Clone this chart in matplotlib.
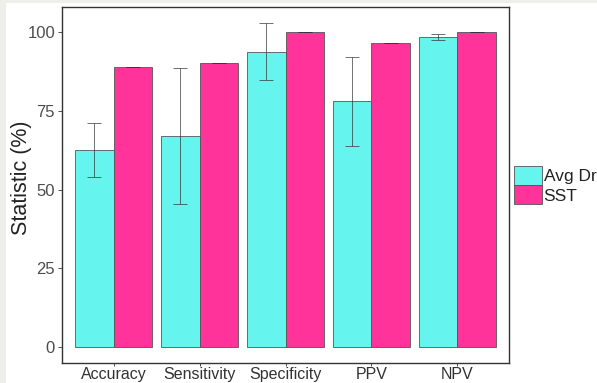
#!/usr/bin/env python3
# Grouped bar chart: Avg Dr vs SST diagnostic statistics, ggplot-like look.

import numpy as np
import matplotlib
matplotlib.use("Agg")
import matplotlib.pyplot as plt
from matplotlib.patches import Rectangle

plt.rcParams["font.family"] = ["Liberation Sans", "DejaVu Sans"]

categories = ["Accuracy", "Sensitivity", "Specificity", "PPV", "NPV"]
avg_dr = [62.5, 67.0, 93.7, 78.2, 98.4]
avg_dr_low = [54.0, 45.4, 84.9, 63.7, 97.5]
avg_dr_high = [71.0, 88.6, 102.8, 92.1, 99.3]
sst = [89.0, 90.2, 100.0, 96.5, 100.0]
series_names = ["Avg Dr", "SST"]
y_ticks = [0, 25, 50, 75, 100]

CYAN = "#66F4EE"
PINK = "#FF3399"
EDGE = "#555555"
TEXT = "#4d4d4d"
STRIP = "#eeeeea"


def main() -> int:
    fig = plt.figure(figsize=(5.97, 3.83), dpi=100)
    fig.patch.set_facecolor("white")
    # light grey margin strips on the left and top edge of the screenshot
    fig.patches.append(Rectangle((0, 0), 6 / 597, 1, transform=fig.transFigure,
                                 facecolor=STRIP, edgecolor="none"))
    fig.patches.append(Rectangle((0, 1 - 3 / 383), 1, 3 / 383, transform=fig.transFigure,
                                 facecolor=STRIP, edgecolor="none"))

    ax = fig.add_axes([62 / 597, 1 - 363 / 383, 447 / 597, 356 / 383])

    x = np.arange(1, len(categories) + 1)
    width = 0.45
    ax.bar(x - width / 2, avg_dr, width, color=CYAN, edgecolor=EDGE,
           linewidth=0.6, label=series_names[0], zorder=2)
    ax.bar(x + width / 2, sst, width, color=PINK, edgecolor=EDGE,
           linewidth=0.6, label=series_names[1], zorder=2)

    avg_arr = np.array(avg_dr)
    yerr = [avg_arr - np.array(avg_dr_low), np.array(avg_dr_high) - avg_arr]
    ax.errorbar(x - width / 2, avg_dr, yerr=yerr, fmt="none", ecolor="#333333",
                elinewidth=0.7, capsize=5, capthick=0.7, alpha=0.7, zorder=3)
    # SST bars have zero-width error bars (just a cap line)
    ax.errorbar(x + width / 2, sst, yerr=0, fmt="none", ecolor="#333333",
                elinewidth=0.7, capsize=5, capthick=0.7, alpha=0.7, zorder=3)

    ax.set_xlim(0.4, 5.6)
    ax.set_ylim(-5.1, 108)
    ax.set_xticks(x)
    ax.set_xticklabels(categories)
    ax.set_yticks(y_ticks)
    ax.tick_params(axis="y", colors="#333333", labelcolor=TEXT,
                   labelsize=12, length=3, width=0.6, pad=2)
    ax.tick_params(axis="x", colors="#333333", labelcolor="#333333",
                   labelsize=11.5, length=2.5, width=0.6, pad=0.5)
    ax.set_ylabel("Statistic (%)", fontsize=15.5, color="#222222")
    ax.yaxis.set_label_coords(-(62 - 32) / 447, 0.52)

    for spine in ax.spines.values():
        spine.set_color("#333333")
        spine.set_linewidth(1.0)

    ax.legend(loc="center left", bbox_to_anchor=(1 + (514 - 509) / 447, 0.5),
              frameon=False, fontsize=12.5, handlelength=1.6,
              handleheight=1.35, handletextpad=0.1, labelspacing=0.0,
              borderpad=0.0, borderaxespad=0.0, labelcolor="#222222")

    fig.savefig("out.png", dpi=100)
    plt.close(fig)
    return 0


if __name__ == "__main__":
    raise SystemExit(main())
